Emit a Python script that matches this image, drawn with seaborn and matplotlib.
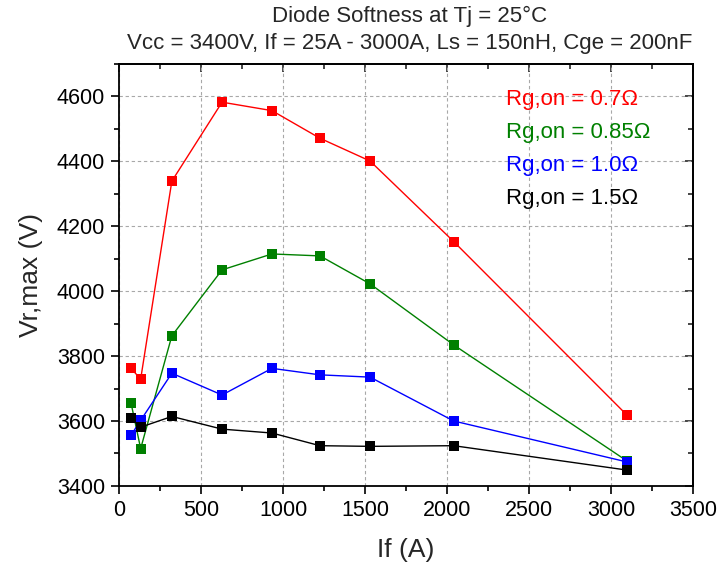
import numpy as np
import pandas as pd
import matplotlib
matplotlib.use("Agg")
import matplotlib.pyplot as plt
import seaborn as sns
from matplotlib.ticker import MultipleLocator

# Forward current (A) at each measurement point
if_a = [73, 132, 322, 628, 932, 1225, 1530, 2040, 3096]

# Peak reverse voltage (V) for each turn-on gate resistance
vr_07 = [3762, 3729, 4338, 4581, 4555, 4470, 4400, 4152, 3618]
vr_085 = [3656, 3515, 3862, 4065, 4114, 4108, 4022, 3834, 3477]
vr_10 = [3556, 3602, 3747, 3680, 3762, 3742, 3735, 3600, 3474]
vr_15 = [3608, 3581, 3614, 3575, 3563, 3524, 3522, 3524, 3449]

labels = ["Rg,on = 0.7\u03a9", "Rg,on = 0.85\u03a9", "Rg,on = 1.0\u03a9", "Rg,on = 1.5\u03a9"]
colors = ["#FF0000", "#008000", "#0000FF", "#000000"]

title_lines = ["Diode Softness at Tj = 25\u00b0C",
               "Vcc = 3400V, If = 25A - 3000A, Ls = 150nH, Cge = 200nF"]

df = pd.concat(
    [pd.DataFrame({"If": if_a, "Vr": v, "Rg": lab})
     for v, lab in zip([vr_07, vr_085, vr_10, vr_15], labels)],
    ignore_index=True,
)

sns.set_theme(style="white")
plt.rcParams["font.family"] = ["Liberation Sans", "DejaVu Sans"]

fig = plt.figure(figsize=(7.23, 5.64), dpi=100)
ax = fig.add_axes([0.1646, 0.1383, 0.7943, 0.7491])

sns.lineplot(data=df, x="If", y="Vr", hue="Rg", palette=colors,
             hue_order=labels, sort=False, estimator=None,
             marker="s", markersize=6.5, markeredgewidth=0,
             linewidth=1.0, ax=ax)

ax.set_xlim(0, 3500)
ax.set_ylim(3400, 4700)
ax.xaxis.set_major_locator(MultipleLocator(500))
ax.xaxis.set_minor_locator(MultipleLocator(250))
ax.yaxis.set_major_locator(MultipleLocator(200))
ax.yaxis.set_minor_locator(MultipleLocator(100))
ax.set_yticks(np.arange(3400, 4601, 200))

ax.grid(True, which="major", color="#a8a8a8", linestyle=(0, (3, 2.5)), linewidth=0.8)
ax.set_axisbelow(True)

for sp in ax.spines.values():
    sp.set_color("black")
    sp.set_linewidth(1.3)

ax.tick_params(which="both", labelsize=15.5, colors="black", width=1.2, pad=4)
ax.tick_params(which="major", length=6)
ax.tick_params(which="minor", length=3.5)
ax.tick_params(axis="x", which="both", direction="out", top=False, bottom=True)
ax.tick_params(axis="y", which="both", direction="out", right=False, left=True)
# inward ticks on the top and right edges
ax2 = ax.secondary_xaxis("top")
ax2.xaxis.set_major_locator(MultipleLocator(500))
ax2.xaxis.set_minor_locator(MultipleLocator(250))
ax2.tick_params(which="both", direction="in", labeltop=False, width=1.2)
ax2.tick_params(which="major", length=6)
ax2.tick_params(which="minor", length=3.5)
ax3 = ax.secondary_yaxis("right")
ax3.yaxis.set_major_locator(MultipleLocator(200))
ax3.yaxis.set_minor_locator(MultipleLocator(100))
ax3.tick_params(which="both", direction="in", labelright=False, width=1.2)
ax3.tick_params(which="major", length=6)
ax3.tick_params(which="minor", length=3.5)
for a in (ax2, ax3):
    for sp in a.spines.values():
        sp.set_linewidth(1.3)
        sp.set_color("black")

ax.set_xlabel("If (A)", fontsize=19, labelpad=12)
ax.set_ylabel("Vr,max (V)", fontsize=19, labelpad=10)

fig.text(0.566, 0.970, title_lines[0], ha="center", va="center", fontsize=16)
fig.text(0.566, 0.922, title_lines[1], ha="center", va="center", fontsize=16)

leg = ax.legend(loc="upper left", bbox_to_anchor=(0.639, 0.986), frameon=False,
                fontsize=16, handlelength=0, handletextpad=0,
                labelspacing=0.53, labelcolor=colors)
for h in leg.legend_handles:
    h.set_visible(False)

fig.savefig("out.png", dpi=100)
